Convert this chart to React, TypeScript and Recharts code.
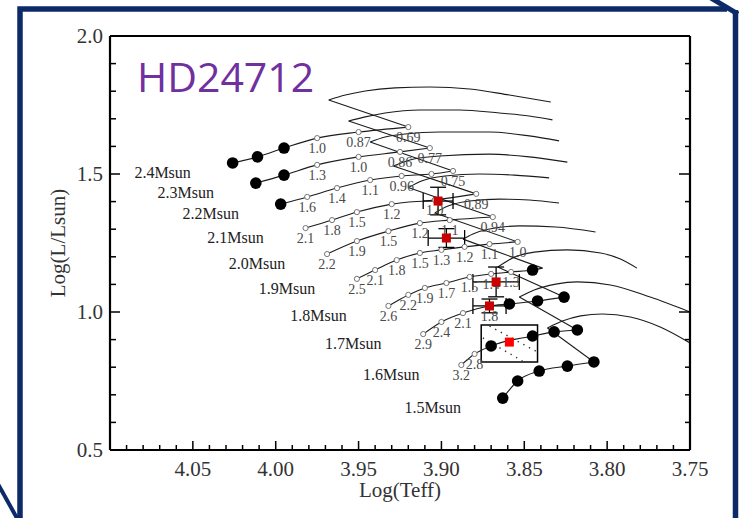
import {
  ComposedChart,
  Line,
  Scatter,
  XAxis,
  YAxis,
  ErrorBar,
  ReferenceArea,
  ReferenceLine,
} from "recharts";

type TrackPoint = { t: number; l: number; age?: string; dot?: boolean };

const SERIF = '"Liberation Serif", "Times New Roman", serif';
const INK = "#1c1c1c";

// axis ticks: log Teff every 0.01, log L every 0.1
const xTicks = [
  3.75, 3.76, 3.77, 3.78, 3.79, 3.8, 3.81, 3.82, 3.83, 3.84, 3.85, 3.86, 3.87, 3.88, 3.89, 3.9, 3.91, 3.92,
  3.93, 3.94, 3.95, 3.96, 3.97, 3.98, 3.99, 4.0, 4.01, 4.02, 4.03, 4.04, 4.05, 4.06, 4.07, 4.08, 4.09, 4.1,
];
const yTicks = [0.5, 0.6, 0.7, 0.8, 0.9, 1.0, 1.1, 1.2, 1.3, 1.4, 1.5, 1.6, 1.7, 1.8, 1.9, 2.0];
const xLabelTicks = [3.75, 3.8, 3.85, 3.9, 3.95, 4.0, 4.05];
const yLabelTicks = [0.5, 1.0, 1.5, 2.0];

// main-sequence legs; open circles carry the age label, filled dots are model points
const ms24: TrackPoint[] = [
  { t: 4.026, l: 1.54, dot: true },
  { t: 4.011, l: 1.562, dot: true },
  { t: 3.995, l: 1.594, dot: true },
  { t: 3.975, l: 1.63, age: "1.0" },
  { t: 3.95, l: 1.652, age: "0.87" },
  { t: 3.92, l: 1.67, age: "0.69" },
];
const ms23: TrackPoint[] = [
  { t: 4.012, l: 1.467, dot: true },
  { t: 3.995, l: 1.496, dot: true },
  { t: 3.975, l: 1.533, age: "1.3" },
  { t: 3.95, l: 1.562, age: "1.0" },
  { t: 3.925, l: 1.58, age: "0.86" },
  { t: 3.907, l: 1.594, age: "0.77" },
];
const ms22: TrackPoint[] = [
  { t: 3.997, l: 1.391, dot: true },
  { t: 3.981, l: 1.417, age: "1.6" },
  { t: 3.963, l: 1.449, age: "1.4" },
  { t: 3.943, l: 1.478, age: "1.1" },
  { t: 3.924, l: 1.493, age: "0.96" },
  { t: 3.906, l: 1.5, age: "" },
  { t: 3.893, l: 1.511, age: "0.75" },
];
const ms21: TrackPoint[] = [
  { t: 3.982, l: 1.304, age: "2.1" },
  { t: 3.966, l: 1.333, age: "1.8" },
  { t: 3.951, l: 1.362, age: "1.5" },
  { t: 3.93, l: 1.391, age: "1.2" },
  { t: 3.904, l: 1.406, age: "1.0" },
  { t: 3.879, l: 1.428, age: "0.89" },
];
const ms20: TrackPoint[] = [
  { t: 3.969, l: 1.21, age: "2.2" },
  { t: 3.951, l: 1.257, age: "1.9" },
  { t: 3.932, l: 1.293, age: "1.5" },
  { t: 3.913, l: 1.322, age: "1.2" },
  { t: 3.895, l: 1.333, age: "1.1" },
  { t: 3.869, l: 1.344, age: "0.94" },
];
const ms19: TrackPoint[] = [
  { t: 3.951, l: 1.12, age: "2.5" },
  { t: 3.94, l: 1.152, age: "2.1" },
  { t: 3.927, l: 1.188, age: "1.8" },
  { t: 3.913, l: 1.214, age: "1.5" },
  { t: 3.9, l: 1.225, age: "1.3" },
  { t: 3.886, l: 1.236, age: "1.2" },
  { t: 3.871, l: 1.246, age: "1.1" },
  { t: 3.854, l: 1.254, age: "1.0" },
];
const ms18: TrackPoint[] = [
  { t: 3.932, l: 1.022, age: "2.6" },
  { t: 3.92, l: 1.062, age: "2.2" },
  { t: 3.91, l: 1.087, age: "1.9" },
  { t: 3.897, l: 1.105, age: "1.7" },
  { t: 3.883, l: 1.127, age: "1.5" },
  { t: 3.87, l: 1.138, age: "1.4" },
  { t: 3.858, l: 1.145, age: "1.3" },
  { t: 3.845, l: 1.152, dot: true },
  { t: 3.839, l: 1.159 },
];
const ms17: TrackPoint[] = [
  { t: 3.911, l: 0.92, age: "2.9" },
  { t: 3.9, l: 0.964, age: "2.4" },
  { t: 3.887, l: 0.996, age: "2.1" },
  { t: 3.871, l: 1.022, age: "1.8" },
  { t: 3.859, l: 1.029, dot: true },
  { t: 3.842, l: 1.04, dot: true },
  { t: 3.826, l: 1.054, dot: true },
];
const ms16: TrackPoint[] = [
  { t: 3.888, l: 0.808, age: "3.2" },
  { t: 3.88, l: 0.848, age: "2.8" },
  { t: 3.87, l: 0.877, dot: true },
  { t: 3.845, l: 0.913, dot: true },
  { t: 3.832, l: 0.928, dot: true },
  { t: 3.818, l: 0.935, dot: true },
];
const ms15: TrackPoint[] = [
  { t: 3.863, l: 0.688, dot: true },
  { t: 3.854, l: 0.75, dot: true },
  { t: 3.841, l: 0.786, dot: true },
  { t: 3.824, l: 0.804, dot: true },
  { t: 3.808, l: 0.819, dot: true },
];

// post-hook legs running to the red
const arch24 = [
  { t: 3.968, l: 1.768 }, { t: 3.958, l: 1.786 }, { t: 3.946, l: 1.801 }, { t: 3.928, l: 1.812 },
  { t: 3.907, l: 1.815 }, { t: 3.883, l: 1.808 }, { t: 3.859, l: 1.786 }, { t: 3.834, l: 1.761 },
];
const arch23 = [
  { t: 3.956, l: 1.692 }, { t: 3.946, l: 1.707 }, { t: 3.934, l: 1.721 }, { t: 3.913, l: 1.732 },
  { t: 3.889, l: 1.732 }, { t: 3.865, l: 1.721 }, { t: 3.847, l: 1.71 }, { t: 3.833, l: 1.696 },
];
const arch22 = [
  { t: 3.943, l: 1.616 }, { t: 3.934, l: 1.634 }, { t: 3.922, l: 1.645 }, { t: 3.901, l: 1.652 },
  { t: 3.871, l: 1.652 }, { t: 3.847, l: 1.638 }, { t: 3.829, l: 1.62 },
];
const arch21 = [
  { t: 3.929, l: 1.529 }, { t: 3.919, l: 1.551 }, { t: 3.901, l: 1.565 }, { t: 3.871, l: 1.572 },
  { t: 3.847, l: 1.562 }, { t: 3.824, l: 1.543 },
];
const arch20 = [
  { t: 3.92, l: 1.451 }, { t: 3.912, l: 1.475 }, { t: 3.898, l: 1.493 }, { t: 3.877, l: 1.5 },
  { t: 3.856, l: 1.496 }, { t: 3.835, l: 1.486 },
];
const arch19 = [
  { t: 3.904, l: 1.359 }, { t: 3.896, l: 1.384 }, { t: 3.883, l: 1.402 }, { t: 3.865, l: 1.409 },
  { t: 3.847, l: 1.406 }, { t: 3.829, l: 1.395 },
];
const arch18 = [
  { t: 3.887, l: 1.264 }, { t: 3.881, l: 1.283 }, { t: 3.871, l: 1.301 }, { t: 3.853, l: 1.312 },
  { t: 3.831, l: 1.308 }, { t: 3.807, l: 1.29 },
];
const arch17 = [
  { t: 3.866, l: 1.163 }, { t: 3.857, l: 1.196 }, { t: 3.844, l: 1.217 }, { t: 3.824, l: 1.225 },
  { t: 3.804, l: 1.214 }, { t: 3.792, l: 1.192 }, { t: 3.782, l: 1.159 },
];
const arch16 = [
  { t: 3.853, l: 1.054 }, { t: 3.844, l: 1.08 }, { t: 3.831, l: 1.101 }, { t: 3.818, l: 1.109 },
  { t: 3.798, l: 1.098 }, { t: 3.774, l: 1.054 }, { t: 3.75, l: 1.0 },
];
const arch15 = [
  { t: 3.836, l: 0.942 }, { t: 3.827, l: 0.967 }, { t: 3.816, l: 0.986 }, { t: 3.803, l: 0.993 },
  { t: 3.786, l: 0.982 }, { t: 3.768, l: 0.946 }, { t: 3.75, l: 0.888 },
];

const masses = ["2.4Msun", "2.3Msun", "2.2Msun", "2.1Msun", "2.0Msun", "1.9Msun", "1.8Msun", "1.7Msun", "1.6Msun", "1.5Msun"];
const msLegs = [ms24, ms23, ms22, ms21, ms20, ms19, ms18, ms17, ms16, ms15];
const arches = [arch24, arch23, arch22, arch21, arch20, arch19, arch18, arch17, arch16, arch15];

// HD 24712 position estimates with error bars, and the adopted point
const stars = [
  { t: 3.902, l: 1.402, ex: 0.009, ey: 0.05 },
  { t: 3.897, l: 1.268, ex: 0.011, ey: 0.034 },
  { t: 3.867, l: 1.109, ex: 0.014, ey: 0.054 },
  { t: 3.871, l: 1.022, ex: 0.01, ey: 0.025 },
];
const adopted = [{ t: 3.859, l: 0.891 }];

// error box and the dotted lines inside it
const boxT = [3.876, 3.842];
const boxL = [0.819, 0.953];
const dottedLines = [
  [{ x: 3.871, y: 0.949 }, { x: 3.842, y: 0.855 }],
  [{ x: 3.875, y: 0.906 }, { x: 3.851, y: 0.822 }],
];

const tracks = masses.map((mass, i) => ({ mass, ms: msLegs[i], arch: arches[i] }));
const ageMarks = msLegs.flatMap((leg) => leg.filter((p) => p.age !== undefined));
const modelDots = msLegs.flatMap((leg) => leg.filter((p) => p.dot));
const massAnchors = tracks.map((tr) => ({ ...tr.ms[0], mass: tr.mass }));

const near = (v: number, list: number[]) => list.some((b) => Math.abs(v - b) < 1e-6);
const isMajorX = (v: number) => Math.round(v * 100) % 5 === 0;
const isMajorY = (v: number) => Math.round(v * 10) % 5 === 0;

function BottomTick({ x, y, payload }: any) {
  const v = payload.value;
  return (
    <g>
      <line x1={x} y1={y} x2={x} y2={y - (isMajorX(v) ? 9 : 5)} stroke="#000" strokeWidth={1.5} />
      {near(v, xLabelTicks) && (
        <text x={x} y={y + 26} textAnchor="middle" fontFamily={SERIF} fontSize={21} fill="#333">
          {v.toFixed(2)}
        </text>
      )}
    </g>
  );
}

function TopTick({ x, y, payload }: any) {
  const v = payload.value;
  return <line x1={x} y1={y} x2={x} y2={y + (isMajorX(v) ? 9 : 5)} stroke="#000" strokeWidth={1.5} />;
}

function LeftTick({ x, y, payload }: any) {
  const v = payload.value;
  return (
    <g>
      <line x1={x} y1={y} x2={x + (isMajorY(v) ? 10 : 6)} y2={y} stroke="#000" strokeWidth={1.5} />
      {near(v, yLabelTicks) && (
        <text x={x - 7} y={y + 7} textAnchor="end" fontFamily={SERIF} fontSize={21} fill="#333">
          {v.toFixed(1)}
        </text>
      )}
    </g>
  );
}

function RightTick({ x, y, payload }: any) {
  const v = payload.value;
  return <line x1={x} y1={y} x2={x - (isMajorY(v) ? 11 : 5)} y2={y} stroke="#000" strokeWidth={1.5} />;
}

function AgeCircle({ cx, cy, payload }: any) {
  return (
    <g>
      <circle cx={cx} cy={cy} r={2.6} fill="#fff" stroke="#666" strokeWidth={0.9} />
      {payload.age && (
        <text x={cx} y={cy + 15} textAnchor="middle" fontFamily={SERIF} fontSize={14} fill="#4a4a4a">
          {payload.age}
        </text>
      )}
    </g>
  );
}

function ModelDot({ cx, cy }: any) {
  return <circle cx={cx} cy={cy} r={5.8} fill="#000" />;
}

function MassLabel({ cx, cy, payload }: any) {
  return (
    <text x={cx - 70} y={cy + 15} textAnchor="middle" fontFamily={SERIF} fontSize={16} fill="#222">
      {payload.mass}
    </text>
  );
}

function Square({ cx, cy, fill }: any) {
  return <rect x={cx - 4.5} y={cy - 4.5} width={9} height={9} fill={fill} />;
}

function Frame() {
  const navy = "#0d2a68";
  return (
    <svg
      width={739}
      height={518}
      style={{ position: "absolute", left: 0, top: 0, pointerEvents: "none" }}
    >
      <text x={137} y={92} fontFamily='"Open Sans", sans-serif' fontSize={41} fill="#7030a0">
        HD24712
      </text>
      <polyline points="20,518 20,9 727,9" fill="none" stroke={navy} strokeWidth={5.5} />
      <line x1={711} y1={-2} x2={738} y2={14} stroke={navy} strokeWidth={5} />
      <line x1={735.5} y1={10} x2={735.5} y2={518} stroke={navy} strokeWidth={5.5} />
      <line x1={-2} y1={484} x2={18} y2={520} stroke={navy} strokeWidth={4} />
    </svg>
  );
}

export default function App() {
  return (
    <div style={{ position: "absolute", left: 0, top: 0, width: 739, height: 518, background: "#fff" }}>
      <ComposedChart width={739} height={518} margin={{ top: 34, right: 47, bottom: 28, left: 50 }}>
        <XAxis
          dataKey="t"
          type="number"
          domain={[3.75, 4.1]}
          reversed
          allowDataOverflow
          ticks={xTicks}
          interval={0}
          height={40}
          tickSize={0}
          tickMargin={0}
          tickLine={false}
          axisLine={{ stroke: "#000", strokeWidth: 2.2 }}
          tick={(p: any) => <BottomTick {...p} />}
          label={{
            content: ({ viewBox }: any) => (
              <text
                x={viewBox.x + viewBox.width / 2}
                y={viewBox.y + 47}
                textAnchor="middle"
                fontFamily={SERIF}
                fontSize={21}
                fill="#333"
              >
                Log(Teff)
              </text>
            ),
          }}
        />
        <XAxis
          xAxisId="top"
          orientation="top"
          type="number"
          domain={[3.75, 4.1]}
          reversed
          allowDataOverflow
          ticks={xTicks}
          interval={0}
          height={2}
          tickSize={0}
          tickMargin={0}
          tickLine={false}
          axisLine={{ stroke: "#000", strokeWidth: 2.2 }}
          tick={(p: any) => <TopTick {...p} />}
        />
        <YAxis
          dataKey="l"
          type="number"
          domain={[0.5, 2.0]}
          allowDataOverflow
          ticks={yTicks}
          interval={0}
          width={60}
          tickSize={0}
          tickMargin={0}
          tickLine={false}
          axisLine={{ stroke: "#000", strokeWidth: 2.2 }}
          tick={(p: any) => <LeftTick {...p} />}
          label={{
            content: ({ viewBox }: any) => {
              const cx = viewBox.x + 8;
              const cy = viewBox.y + viewBox.height / 2;
              return (
                <text
                  x={cx}
                  y={cy}
                  transform={`rotate(-90, ${cx}, ${cy})`}
                  textAnchor="middle"
                  dominantBaseline="central"
                  fontFamily={SERIF}
                  fontSize={21}
                  fill="#333"
                >
                  Log(L/Lsun)
                </text>
              );
            },
          }}
        />
        <YAxis
          yAxisId="right"
          orientation="right"
          type="number"
          domain={[0.5, 2.0]}
          allowDataOverflow
          ticks={yTicks}
          interval={0}
          width={2}
          tickSize={0}
          tickMargin={0}
          tickLine={false}
          axisLine={{ stroke: "#000", strokeWidth: 2.2 }}
          tick={(p: any) => <RightTick {...p} />}
        />

        {tracks.map((tr) => (
          <Line
            key={`${tr.mass}-ms`}
            data={tr.ms}
            dataKey="l"
            type="monotone"
            stroke={INK}
            strokeWidth={1.1}
            dot={false}
            activeDot={false}
            isAnimationActive={false}
          />
        ))}
        {tracks.map((tr) => (
          <Line
            key={`${tr.mass}-hook`}
            data={[tr.ms[tr.ms.length - 1], tr.arch[0]]}
            dataKey="l"
            type="linear"
            stroke={INK}
            strokeWidth={1.1}
            dot={false}
            activeDot={false}
            isAnimationActive={false}
          />
        ))}
        {tracks.map((tr) => (
          <Line
            key={`${tr.mass}-arch`}
            data={tr.arch}
            dataKey="l"
            type="monotone"
            stroke={INK}
            strokeWidth={1.1}
            dot={false}
            activeDot={false}
            isAnimationActive={false}
          />
        ))}

        <Scatter data={ageMarks} dataKey="l" shape={(p: any) => <AgeCircle {...p} />} isAnimationActive={false} />
        <Scatter data={modelDots} dataKey="l" shape={(p: any) => <ModelDot {...p} />} isAnimationActive={false} />
        <Scatter data={massAnchors} dataKey="l" shape={(p: any) => <MassLabel {...p} />} isAnimationActive={false} />

        <ReferenceArea
          x1={boxT[0]}
          x2={boxT[1]}
          y1={boxL[0]}
          y2={boxL[1]}
          fill="none"
          fillOpacity={0}
          stroke="#000"
          strokeWidth={1.5}
          ifOverflow="visible"
        />
        {dottedLines.map((seg, i) => (
          <ReferenceLine key={`dots-${i}`} segment={seg} stroke="#333" strokeWidth={1.4} strokeDasharray="1.4 5" />
        ))}

        <Scatter
          data={stars}
          dataKey="l"
          shape={(p: any) => <Square {...p} fill="#c80000" />}
          isAnimationActive={false}
        >
          <ErrorBar dataKey="ex" direction="x" width={8} stroke="#000" strokeWidth={1.3} />
          <ErrorBar dataKey="ey" direction="y" width={8} stroke="#000" strokeWidth={1.3} />
        </Scatter>
        <Scatter
          data={adopted}
          dataKey="l"
          shape={(p: any) => <Square {...p} fill="#ff0000" />}
          isAnimationActive={false}
        />
      </ComposedChart>
      <Frame />
    </div>
  );
}
